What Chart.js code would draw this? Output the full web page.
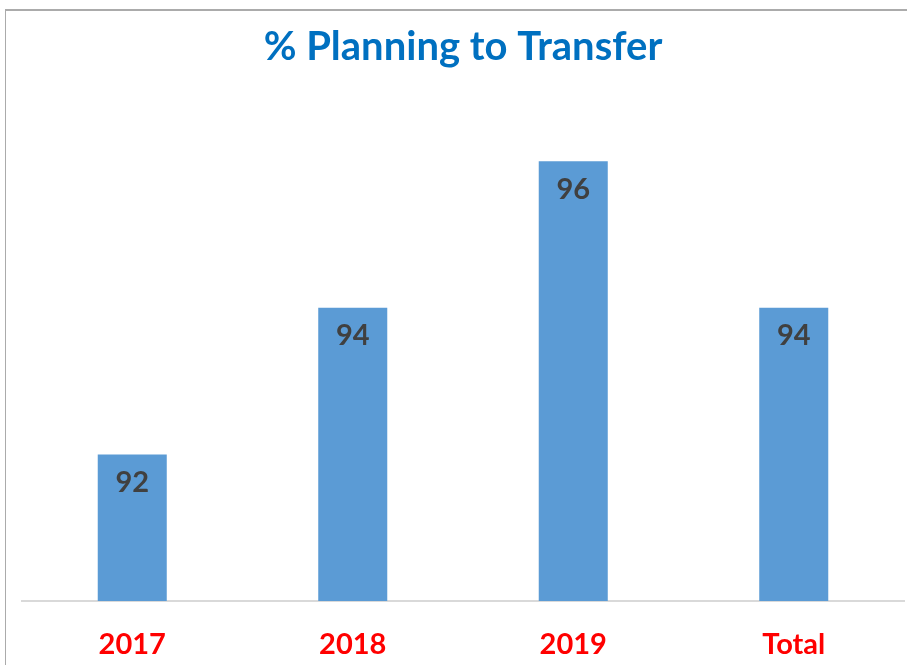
<!DOCTYPE html>
<html lang="en">
<head>
    <meta charset="UTF-8">
    <title>% Planning to Transfer</title>
    <style>
        body { margin: 0; background: #fff; }
        #frame {
            position: absolute; left: 5px; top: 9px; width: 910px; height: 670px;
            border-top: 2px solid #ababab; border-left: 1px solid #ababab;
        }
        #box { position: absolute; left: 0; top: 0; width: 907px; height: 665px; }
    </style>
</head>
<body>
    <div id="frame"></div>
    <div id="box"><canvas id="transferChart"></canvas></div>
<script src="https://cdn.jsdelivr.net/npm/chart.js"></script>
<script>
    // data
    const categories = ['2017', '2018', '2019', 'Total'];
    const percentPlanning = [92, 94, 96, 94];

    // draws the value just inside the top of each bar
    const barValues = {
        id: 'barValues',
        afterDatasetsDraw(chart) {
            const ctx = chart.ctx;
            const meta = chart.getDatasetMeta(0);
            ctx.save();
            ctx.font = 'bold 29px Lato';
            ctx.fillStyle = '#404040';
            ctx.textAlign = 'center';
            ctx.textBaseline = 'middle';
            meta.data.forEach((bar, i) => {
                ctx.fillText(percentPlanning[i], bar.x, bar.y + 28);
            });
            ctx.restore();
        }
    };

    function makeChart() {
        const ctx = document.getElementById('transferChart');
        new Chart(ctx, {
            type: 'bar',
            data: {
                labels: categories,
                datasets: [{
                    label: '% Planning to Transfer',
                    data: percentPlanning,
                    backgroundColor: '#5b9bd5',
                    borderWidth: 0,
                    barPercentage: 0.313,
                    categoryPercentage: 1
                }]
            },
            options: {
                responsive: true,
                maintainAspectRatio: false,
                animation: false,
                layout: { padding: { top: 6, left: 22, right: 3, bottom: 4 } },
                plugins: {
                    legend: { display: false },
                    tooltip: { enabled: false },
                    title: {
                        display: true,
                        text: '% Planning to Transfer',
                        color: '#0070c0',
                        font: { family: 'Lato', size: 40, weight: 'bold' },
                        padding: { top: 17, bottom: 17 }
                    }
                },
                scales: {
                    x: {
                        grid: { display: false, drawTicks: false },
                        border: { display: true, color: '#d9d9d9', width: 2 },
                        ticks: {
                            color: '#ff0000',
                            padding: 26,
                            font: { family: 'Lato', size: 29, weight: 'bold' }
                        },
                        afterFit(scale) { scale.height = 60; }
                    },
                    y: {
                        display: false,
                        min: 90,
                        max: 97
                    }
                }
            },
            plugins: [barValues]
        });
    }
    window.onload = makeChart;
</script>
</body>
</html>
